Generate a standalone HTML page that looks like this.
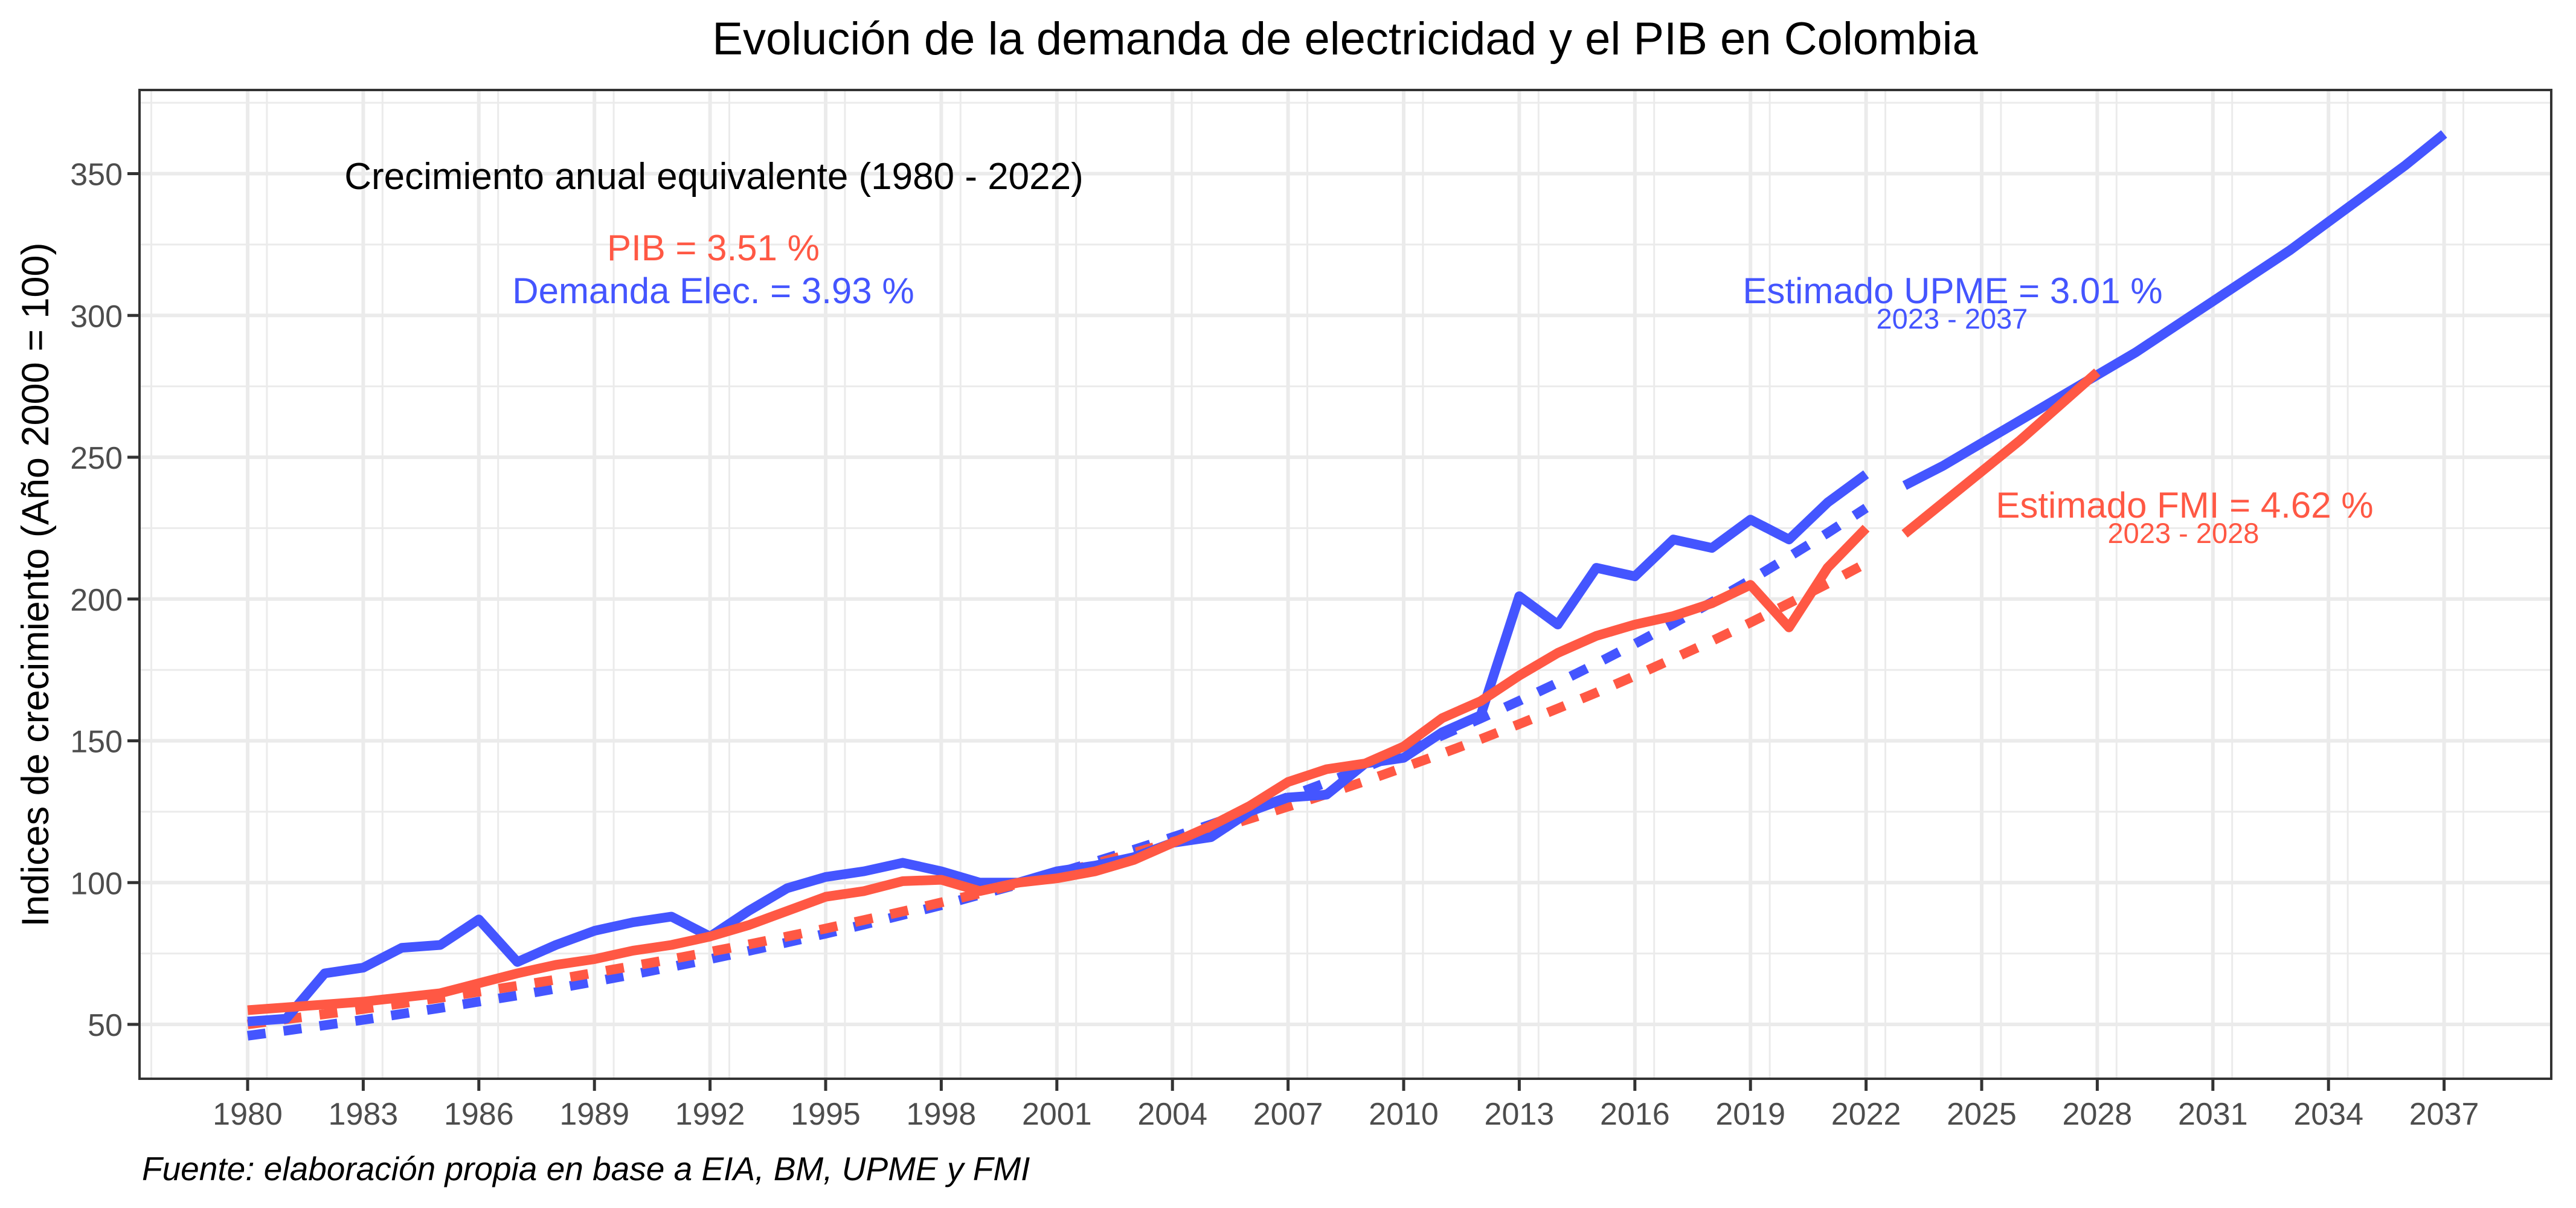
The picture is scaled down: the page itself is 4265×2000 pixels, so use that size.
<!DOCTYPE html>
<html><head><meta charset="utf-8"><style>
html,body{margin:0;padding:0;background:#fff;}
svg{display:block;font-family:"Liberation Sans",Arial,sans-serif;}
</style></head><body>
<svg id="chart" width="4265" height="2000" viewBox="0 0 4265 2000" xmlns="http://www.w3.org/2000/svg">
<rect x="0" y="0" width="4265" height="2000" fill="#fff"/>
<g id="grid"></g>
<g id="series"></g>
<rect x="231" y="149" width="3993" height="1637" fill="none" stroke="#333" stroke-width="4"/>
<g id="axes"></g>
<text x="2227" y="90" font-size="76" text-anchor="middle" fill="#000">Evolución de la demanda de electricidad y el PIB en Colombia</text>
<text transform="translate(80,968) rotate(-90)" font-size="63" text-anchor="middle" fill="#000">Indices de crecimiento (Año 2000 = 100)</text>
<text x="235" y="1954" font-size="55" font-style="italic" fill="#000">Fuente: elaboración propia en base a EIA, BM, UPME y FMI</text>
<text x="1182" y="313" font-size="62" text-anchor="middle" fill="#000">Crecimiento anual equivalente (1980 - 2022)</text>
<text x="1181" y="431" font-size="60" text-anchor="middle" fill="#FF5844">PIB = 3.51 %</text>
<text x="1181" y="502" font-size="60" text-anchor="middle" fill="#4455FF">Demanda Elec. = 3.93 %</text>
<text x="3233" y="502" font-size="60" text-anchor="middle" fill="#4455FF">Estimado UPME = 3.01 %</text>
<text x="3232" y="544" font-size="47" text-anchor="middle" fill="#4455FF">2023 - 2037</text>
<text x="3617" y="857" font-size="60" text-anchor="middle" fill="#FF5844">Estimado FMI = 4.62 %</text>
<text x="3615" y="899" font-size="47" text-anchor="middle" fill="#FF5844">2023 - 2028</text>
</svg>
<script>
const histYears = [1980,1981,1982,1983,1984,1985,1986,1987,1988,1989,1990,1991,1992,1993,1994,1995,1996,1997,1998,1999,2000,2001,2002,2003,2004,2005,2006,2007,2008,2009,2010,2011,2012,2013,2014,2015,2016,2017,2018,2019,2020,2021,2022];
const demanda = [51,52,68,70,77,78,87,72,78,83,86,88,81,90,98,102,104,107,104,100,100,104,106,109,114,116,125,130,131,142,144,153,159,201,191,211,208,221,218,228,221,234,244];
const pib = [55,56,57,58,59.5,61,64.5,68,71,73,76,78,81,85,90,95,97,100.5,101,97,100,101.5,104,108,114,120,127,135.5,140,142,148,158,164,173,181,187,191,194,198.5,205,190,211,225];
const demandaTrend = [46,47.8,49.7,51.6,53.7,55.8,58,60.2,62.6,65.1,67.6,70.3,73,75.9,78.9,82,85.2,88.6,92,95.7,99.4,103.3,107.4,111.6,116,120.5,125.3,130.2,135.3,140.6,146.2,151.9,157.9,164.1,170.5,177.2,184.2,191.4,198.9,206.7,214.9,223.3,232.1];
const pibTrend = [50,51.8,53.6,55.4,57.4,59.4,61.5,63.6,65.8,68.2,70.6,73,75.6,78.2,81,83.8,86.8,89.8,93,96.2,99.6,103.1,106.7,110.5,114.3,118.3,122.5,126.8,131.2,135.8,140.6,145.5,150.6,155.9,161.4,167,172.9,179,185.2,191.7,198.5,205.4,212.6];
const upmeYears = [2023,2024,2025,2026,2027,2028,2029,2030,2031,2032,2033,2034,2035,2036,2037];
const upme = [240,247,255,263,271,279,287,296,305,314,323,333,343,353,364];
const fmiYears = [2023,2024,2025,2026,2027,2028];
const fmi = [223,234,245,256,268,280];
const xTicks = [1980,1983,1986,1989,1992,1995,1998,2001,2004,2007,2010,2013,2016,2019,2022,2025,2028,2031,2034,2037];
const yTicks = [50,100,150,200,250,300,350];

const NS = "http://www.w3.org/2000/svg";
const PL=231, PR=4224, PT=149, PB=1786;
function xs(yr){ return 410 + (yr-1980)*63.8; }
function ys(v){ return 1696 - (v-50)*4.695; }
function mk(tag, attrs, parent){ const e=document.createElementNS(NS,tag); for(const k in attrs) e.setAttribute(k,attrs[k]); parent.appendChild(e); return e; }
const grid=document.getElementById('grid'), axes=document.getElementById('axes'), series=document.getElementById('series');

for(let v=25; v<=400; v+=50){ const y=ys(v); if(y>PT&&y<PB){ const l=mk('line',{x1:PL,x2:PR,y1:y,y2:y,stroke:'#EBEBEB','stroke-width':3},grid);

 } }
for(let yr=1977.5; yr<=2041; yr+=3){ const x=xs(yr); if(x>PL&&x<PR){ const l=mk('line',{x1:x,x2:x,y1:PT,y2:PB,stroke:'#EBEBEB','stroke-width':3},grid);

 } }
yTicks.forEach(v=>{ const y=ys(v);
 const l=mk('line',{x1:PL,x2:PR,y1:y,y2:y,stroke:'#EBEBEB','stroke-width':6},grid);
 
 
 const t=mk('line',{x1:PL-20,x2:PL,y1:y,y2:y,stroke:'#333','stroke-width':5},axes);
 
 
 const tx=mk('text',{x:PL-28,y:y+19,'font-size':52,'text-anchor':'end',fill:'#4D4D4D'},axes); tx.textContent=v;
 
 
});
xTicks.forEach(yr=>{ const x=xs(yr);
 const l=mk('line',{x1:x,x2:x,y1:PT,y2:PB,stroke:'#EBEBEB','stroke-width':6},grid);
 
 
 const t=mk('line',{x1:x,x2:x,y1:PB,y2:PB+20,stroke:'#333','stroke-width':5},axes);
 
 
 const tx=mk('text',{x:x,y:PB+76,'font-size':52,'text-anchor':'middle',fill:'#4D4D4D'},axes); tx.textContent=yr;
 
 
});
function line(years, vals, color, dashed, name){
 const d=years.map((yr,i)=>(i?'L':'M')+xs(yr).toFixed(1)+','+ys(vals[i]).toFixed(1)).join(' ');
 const p=mk('path',{d:d,fill:'none',stroke:color,'stroke-width':16,'stroke-linejoin':'round','stroke-linecap':'butt'},series);
 if(dashed) p.setAttribute('stroke-dasharray','30 30');
 
 
}
const BLUE='#4455FF', RED='#FF5844';
line(histYears, demandaTrend, BLUE, true, 'demanda-trend-line');
line(histYears, pibTrend, RED, true, 'pib-trend-line');
line(histYears, demanda, BLUE, false, 'demanda-line');
line(histYears, pib, RED, false, 'pib-line');
line(upmeYears, upme, BLUE, false, 'upme-projection-line');
line(fmiYears, fmi, RED, false, 'fmi-projection-line');
</script>
</body></html>
